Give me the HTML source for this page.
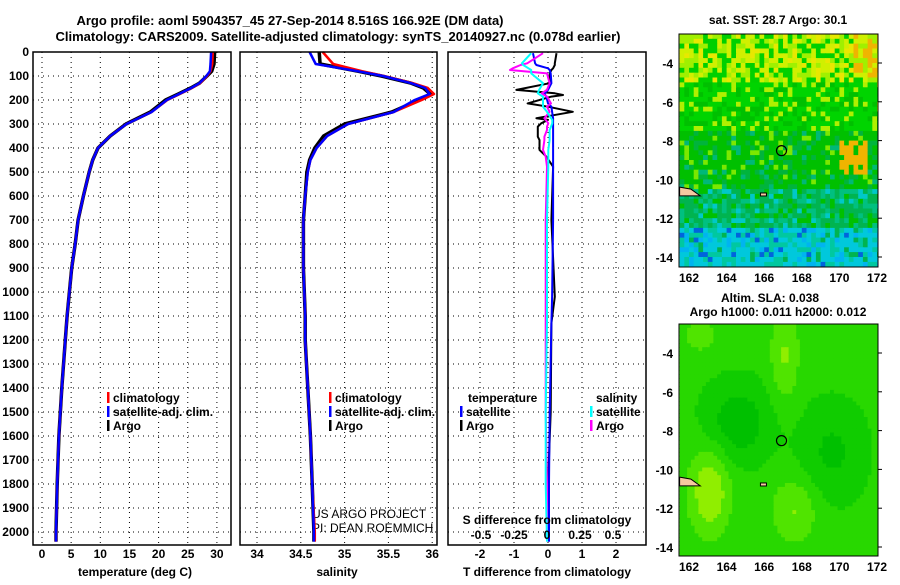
<!DOCTYPE html>
<html><head><meta charset="utf-8">
<style>
html,body{margin:0;padding:0;background:#fff;}
body{width:900px;height:580px;overflow:hidden;font-family:"Liberation Sans",Arial,sans-serif;}
svg text{font-family:"Liberation Sans",Arial,sans-serif;font-weight:bold;fill:#000;}
</style></head>
<body>
<svg id="fig" width="900" height="580" viewBox="0 0 900 580" xmlns="http://www.w3.org/2000/svg">
<text x="290" y="25" font-size="13" text-anchor="middle">Argo profile: aoml 5904357_45 27-Sep-2014 8.516S 166.92E (DM data)</text>
<text x="338" y="41" font-size="13" text-anchor="middle">Climatology: CARS2009. Satellite-adjusted climatology: synTS_20140927.nc (0.078d earlier)</text>
<text x="778" y="24" font-size="12" text-anchor="middle">sat. SST: 28.7 Argo: 30.1</text>
<text x="770" y="302" font-size="12" text-anchor="middle">Altim. SLA: 0.038</text>
<text x="778" y="316" font-size="12" text-anchor="middle">Argo h1000: 0.011 h2000: 0.012</text>
<text transform="translate(893,548) rotate(-90)" font-size="12" style="font-weight:normal">©IMOS 13-Dec-2018 22:11:30</text>
<text x="312" y="518" font-size="12" style="font-weight:normal">US ARGO PROJECT</text>
<text x="312" y="532" font-size="12" style="font-weight:normal">PI: DEAN ROEMMICH</text>
<g id="plots"></g>
</svg>
<script>
// ---------- data ----------
const depthTicks = [0,100,200,300,400,500,600,700,800,900,1000,1100,1200,1300,1400,1500,1600,1700,1800,1900,2000];
const tempTicks = [0,5,10,15,20,25,30];
const salTicks = [34,34.5,35,35.5,36];
const salTickLabels = ["34","34.5","35","35.5","36"];
const tdiffTicks = [-2,-1,0,1,2];
const sdiffTicks = [-0.5,-0.25,0,0.25,0.5];
const sdiffTickLabels = ["-0.5","-0.25","0","0.25","0.5"];

const profDepth = [0,50,80,100,130,150,175,200,250,300,350,400,450,500,600,700,800,900,1000,1100,1200,1400,1600,1800,2000,2040];
const tempArgo  = [29.6,29.5,29.1,28.3,27.0,25.5,23.4,21.2,18.6,14.4,11.7,9.6,8.7,8.1,7.1,6.2,5.7,5.1,4.7,4.3,4.0,3.4,2.9,2.6,2.4,2.4];
const tempClim  = [29.3,29.2,28.9,28.3,27.1,25.7,23.6,21.5,18.8,14.5,11.7,9.6,8.7,8.1,7.1,6.2,5.7,5.1,4.7,4.3,4.0,3.4,2.9,2.6,2.4,2.4];
const tempSat   = [29.0,28.9,28.8,28.2,27.0,25.6,23.5,21.4,18.8,14.5,11.7,9.6,8.7,8.1,7.1,6.2,5.7,5.1,4.7,4.3,4.0,3.4,2.9,2.6,2.4,2.4];
const salArgo   = [34.71,34.72,35.15,35.42,35.76,35.9,35.98,35.85,35.54,35.0,34.76,34.66,34.6,34.57,34.55,34.53,34.53,34.53,34.54,34.55,34.55,34.58,34.61,34.63,34.65,34.65];
const salClim   = [34.75,34.87,35.2,35.45,35.78,35.95,36.02,35.88,35.56,35.04,34.8,34.68,34.61,34.58,34.55,34.53,34.53,34.53,34.54,34.55,34.55,34.58,34.61,34.63,34.66,34.66];
const salSat    = [34.6,34.67,35.15,35.44,35.76,35.92,35.97,35.8,35.56,35.04,34.8,34.68,34.61,34.58,34.55,34.53,34.53,34.53,34.54,34.55,34.55,34.58,34.61,34.63,34.65,34.65];

const diffDepth = [5,47,54,68,75,89,130,158,172,179,186,214,228,249,276,283,297,311,325,353,367,408,436,478,700,1020,1130,1500,1800,2040];
const tdiffArgo = [0.25,0.2,0.2,0.15,0.1,0.05,0.05,-0.93,0.2,0.44,0.1,-0.6,0.0,0.73,-0.34,0.0,-0.2,-0.3,-0.3,-0.3,-0.25,-0.25,-0.05,0.15,0.1,0.2,0.1,0.08,0.0,0.02];
const tdiffSat  = [-0.44,-0.38,-0.34,0.0,0.05,0.08,0.1,0.0,-0.1,-0.08,-0.05,0.0,0.1,0.12,0.15,0.15,0.15,0.15,0.15,0.15,0.15,0.15,0.15,0.15,0.15,0.12,0.1,0.05,0.03,0.03];
const sdiffArgo = [-0.03,-0.15,-0.2,-0.26,-0.28,0.0,0.02,0.0,-0.04,-0.02,0.0,0.03,0.0,0.02,-0.02,-0.01,0.01,0.0,0.0,-0.02,-0.02,-0.03,-0.01,-0.0,-0.01,-0.01,-0.01,-0.01,0.0,0.0];
const sdiffSat  = [-0.12,-0.19,-0.18,-0.14,-0.12,-0.12,-0.03,-0.06,-0.07,-0.05,-0.03,-0.03,-0.03,0.0,0.03,0.04,0.04,0.03,0.02,0.02,0.02,0.01,0.01,0.01,0.0,0.0,0.0,-0.01,-0.01,0.0];

const floatLon = 166.92, floatLat = -8.516;
const lonTicks = [162,164,166,168,170,172];
const latTicks = [-4,-6,-8,-10,-12,-14];

// ---------- helpers ----------
const NS="http://www.w3.org/2000/svg";
const root=document.getElementById('plots');
function mk(tag,attrs,parent){const e=document.createElementNS(NS,tag);for(const k in attrs)e.setAttribute(k,attrs[k]);(parent||root).appendChild(e);return e;}
const Y0=52, YK=0.24, YB=545;
const yD=d=>Y0+d*YK;
const xT=t=>42+t*5.83;
const xS=s=>257+(s-34)*87.6;
const xTD=t=>548+t*34;
const xSD=s=>547+s*132;

function panel(name){
  const g=mk('g',{});
  
  
  return g;
}
function grid(g,x0,x1,xs){
  depthTicks.forEach(d=>{const y=yD(d);if(d>0){const l=mk('line',{x1:x0,x2:x1,y1:y,y2:y,stroke:'#000','stroke-width':1,'stroke-dasharray':'1,4'},g);}});
  xs.forEach(x=>{const l=mk('line',{x1:x,x2:x,y1:Y0,y2:YB,stroke:'#000','stroke-width':1,'stroke-dasharray':'1,4'},g);});
}
function frame(g,x0,x1){const r=mk('rect',{x:x0,y:Y0,width:x1-x0,height:YB-Y0,fill:'none',stroke:'#000','stroke-width':1.5},g);}
function line(g,vals,depths,xf,color,name,w){
  const pts=vals.map((v,i)=>xf(v).toFixed(1)+','+yD(depths[i]).toFixed(1)).join(' ');
  const p=mk('polyline',{points:pts,fill:'none',stroke:color,'stroke-width':w||2.5,'stroke-linejoin':'round'},g);
  
  
}
function txt(g,x,y,s,size,anchor,name){const t=mk('text',{x:x,y:y,'font-size':size,'text-anchor':anchor||'start'},g);t.textContent=s;return t;}
function legendRow(g,x,y,color,label){
  const m=mk('rect',{x:x,y:y-10,width:2.5,height:11,fill:color},g);
  
  
  txt(g,x+6,y,label,12,'start','legend-entry');
}

// ---------- depth axis ----------
const ya=panel('depth-axis');
depthTicks.forEach(d=>txt(ya,29,yD(d)+4,String(d),12,'end','y-tick-label'));

// ---------- temperature ----------
const p1=panel('temperature-panel');
grid(p1,33,231,tempTicks.map(xT));
line(p1,tempArgo,profDepth,xT,'#000','temp-argo-line',3.5);
line(p1,tempClim,profDepth,xT,'#f00','temp-clim-line',2.5);
line(p1,tempSat,profDepth,xT,'#00f','temp-sat-line',2.5);
frame(p1,33,231);
tempTicks.forEach(t=>txt(p1,xT(t),558,String(t),12,'middle','x-tick-label'));
txt(p1,135,576,'temperature (deg C)',12,'middle','x-axis-title');
legendRow(p1,107,402,'#f00','climatology');
legendRow(p1,107,416,'#00f','satellite-adj. clim.');
legendRow(p1,107,430,'#000','Argo');

// ---------- salinity ----------
const p2=panel('salinity-panel');
grid(p2,240,437,salTicks.map(xS));
line(p2,salArgo,profDepth,xS,'#000','sal-argo-line',3.5);
line(p2,salClim,profDepth,xS,'#f00','sal-clim-line',2.5);
line(p2,salSat,profDepth,xS,'#00f','sal-sat-line',2.5);
frame(p2,240,437);
salTicks.forEach((s,i)=>txt(p2,xS(s),558,salTickLabels[i],12,'middle','x-tick-label'));
txt(p2,337,576,'salinity',12,'middle','x-axis-title');
legendRow(p2,329,402,'#f00','climatology');
legendRow(p2,329,416,'#00f','satellite-adj. clim.');
legendRow(p2,329,430,'#000','Argo');

// ---------- differences ----------
const p3=panel('difference-panel');
grid(p3,448,646,tdiffTicks.map(xTD));
line(p3,tdiffArgo,diffDepth,xTD,'#000','tdiff-argo-line',2);
line(p3,tdiffSat,diffDepth,xTD,'#00f','tdiff-sat-line',2);
line(p3,sdiffArgo,diffDepth,xSD,'#f0f','sdiff-argo-line',2);
line(p3,sdiffSat,diffDepth,xSD,'#0ff','sdiff-sat-line',2);
frame(p3,448,646);
tdiffTicks.forEach(t=>txt(p3,xTD(t),558,String(t),12,'middle','x-tick-label'));
txt(p3,547,576,'T difference from climatology',12,'middle','x-axis-title');
txt(p3,547,524,'S difference from climatology',12,'middle','s-axis-title');
sdiffTicks.forEach((s,i)=>txt(p3,xSD(s),539,sdiffTickLabels[i],12,'middle','s-tick-label'));
txt(p3,468,402,'temperature',12,'start','legend-title');
txt(p3,596,402,'salinity',12,'start','legend-title');
legendRow(p3,460,416,'#00f','satellite');
legendRow(p3,460,430,'#000','Argo');
legendRow(p3,590,416,'#0ff','satellite');
legendRow(p3,590,430,'#f0f','Argo');

// ---------- maps ----------
const MX0=679,MX1=878;
const lonX=l=>689+(l-162)*18.8;
function hash(i,j){let h=(i*374761393+j*668265263)^0x5bd1e995;h=(h^(h>>>13))*1274126177;return ((h^(h>>>16))>>>0)/4294967296;}
function map(name,top,bottom,colorFn,step){
  const g=panel(name);
  const latY=la=>top+29+(-4-la)*19.4;
  const cw=step*18.8, ch=step*19.4;
  let i=0;
  for(let la=-2.5;la>-14.6;la-=step){let j=0;
    for(let lo=161.5;lo<172.1;lo+=step){
      const r=mk('rect',{x:lonX(lo).toFixed(1),y:latY(la).toFixed(1),width:(cw+0.6).toFixed(1),height:(ch+0.6).toFixed(1),fill:colorFn(lo,la,i,j)},g);
      
      
      j++;}
    i++;}
  const w1=mk('rect',{x:MX1,y:top-5,width:20,height:bottom-top+10,fill:'#fff'},g);
  
  const w2=mk('rect',{x:MX0,y:bottom,width:MX1-MX0+20,height:8,fill:'#fff'},g);
  
  const isl=mk('path',{d:`M${lonX(161.5)},${latY(-10.4)} L${lonX(162.1)},${latY(-10.5)} L${lonX(162.6)},${latY(-10.85)} L${lonX(161.5)},${latY(-10.85)} Z`,fill:'#f5c8a0',stroke:'#000','stroke-width':1},g);
  
  const isl2=mk('rect',{x:lonX(165.8),y:latY(-10.7),width:6,height:3,fill:'#f5c8a0',stroke:'#000','stroke-width':1},g);
  
  const c=mk('circle',{cx:lonX(floatLon),cy:latY(floatLat),r:5,fill:'none',stroke:'#000','stroke-width':1.2},g);
  
  const f=mk('rect',{x:MX0,y:top,width:MX1-MX0,height:bottom-top,fill:'none',stroke:'#000','stroke-width':1},g);
  
  latTicks.forEach(la=>{txt(g,673,latY(la)+5,String(la),12,'end','lat-tick-label');
    const t=mk('line',{x1:MX1,x2:MX1+4,y1:latY(la),y2:latY(la),stroke:'#000'},g);});
  lonTicks.forEach(lo=>txt(g,lonX(lo),bottom+15,String(lo),12,'middle','lon-tick-label'));
}
function sstColor(lo,la,i,j){
  const n=hash(i,j);
  if(lo>169.8&&lo<171.3&&la<-7.8&&la>-9.6&&n>0.25)return '#f0b400';
  if(lo>170.5&&la>-4.6&&n>0.5)return '#f0b400';
  if(la>-5){return n<0.3?'#d0f000':n<0.55?'#a0f000':n<0.85?'#00d000':'#e8e800';}
  if(la>-7.5){return n<0.2?'#b0f000':n<0.75?'#00d400':'#00c000';}
  if(la>-10.5){return n<0.1?'#7ce800':n<0.7?'#00c000':n<0.9?'#00b43c':'#00b878';}
  if(la>-12.5){return n<0.4?'#00b450':n<0.7?'#00c080':n<0.9?'#00c000':'#00c8c8';}
  return n<0.45?'#00c8dc':n<0.7?'#00c8a0':n<0.85?'#00b4f0':n<0.93?'#0064dc':'#00b450';
}
function slaColor(lo,la){
  let v=0.3;
  v-=0.35*Math.exp(-((lo-164.5)**2/3+(la+7.5)**2/4));
  v-=0.25*Math.exp(-((lo-169.5)**2/3+(la+9)**2/6));
  v+=0.45*Math.exp(-((lo-163)**2/1.2+(la+11)**2/5));
  v+=0.3*Math.exp(-((lo-167)**2/0.6+(la+4)**2/6));
  v+=0.3*Math.exp(-((lo-167.5)**2/1.5+(la+12)**2/3));
  v+=0.2*Math.exp(-((lo-162.5)**2/1+(la+3)**2/1));
  v=Math.round(v*6)/6;
  if(v<=0.0)return '#00c000';
  if(v<=0.17)return '#10cc00';
  if(v<=0.34)return '#28d800';
  if(v<=0.5)return '#50e400';
  if(v<=0.67)return '#90ee00';
  return '#b8f400';
}
map('sst-map',34,267,sstColor,0.25);
map('sla-map',324,556,slaColor,0.2);
</script>
</body></html>
